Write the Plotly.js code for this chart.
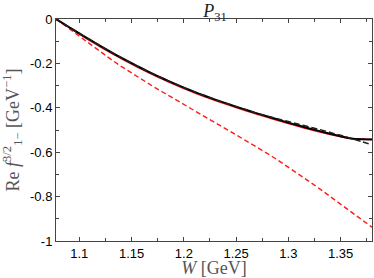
<!DOCTYPE html>
<html><head><meta charset="utf-8">
<script src="https://cdn.plot.ly/plotly-3.0.1.min.js"></script>
<style>html,body{margin:0;padding:0;background:#fff;}#plot{width:374px;height:278px;}</style>
</head><body><div id="plot"></div>
<script>
var W = [1.0777,1.09,1.10,1.11,1.12,1.13,1.14,1.15,1.16,1.17,1.18,1.19,1.20,1.21,1.22,1.23,1.24,1.25,1.26,1.27,1.28,1.29,1.30,1.31,1.32,1.33,1.34,1.35,1.36,1.37,1.38];
var blackSolid = [0,-0.036,-0.065,-0.093,-0.121,-0.148,-0.174,-0.199,-0.223,-0.246,-0.268,-0.289,-0.309,-0.328,-0.346,-0.363,-0.379,-0.395,-0.410,-0.425,-0.439,-0.453,-0.467,-0.480,-0.493,-0.505,-0.517,-0.528,-0.538,-0.542,-0.543];
var redSolid = [0,-0.038,-0.068,-0.097,-0.125,-0.152,-0.178,-0.203,-0.227,-0.250,-0.272,-0.293,-0.313,-0.332,-0.350,-0.367,-0.383,-0.399,-0.414,-0.429,-0.443,-0.457,-0.471,-0.484,-0.497,-0.509,-0.520,-0.530,-0.538,-0.541,-0.542];
var blackDashed = [0,-0.036,-0.065,-0.093,-0.121,-0.148,-0.174,-0.199,-0.223,-0.246,-0.268,-0.289,-0.309,-0.328,-0.346,-0.363,-0.379,-0.395,-0.410,-0.425,-0.438,-0.450,-0.462,-0.474,-0.486,-0.498,-0.511,-0.524,-0.538,-0.552,-0.566];
var redDashed = [0,-0.043,-0.079,-0.114,-0.148,-0.181,-0.213,-0.244,-0.275,-0.302,-0.330,-0.357,-0.384,-0.412,-0.439,-0.467,-0.494,-0.522,-0.550,-0.577,-0.606,-0.636,-0.667,-0.699,-0.732,-0.765,-0.799,-0.833,-0.868,-0.903,-0.938];
var xTickVals = [1.1,1.15,1.2,1.25,1.3,1.35];
var xTickText = ["1.1","1.15","1.2","1.25","1.3","1.35"];
var xMinor = [1.125,1.175,1.225,1.275,1.325,1.375];
var yTickVals = [0,-0.2,-0.4,-0.6,-0.8,-1];
var yTickText = ["0","-0.2","-0.4","-0.6","-0.8","-1"];
var yMinor = [-0.1,-0.3,-0.5,-0.7,-0.9];

var traces = [
  {x:W, y:redDashed, mode:'lines', line:{color:'#ff1a1a', width:1.4, dash:'5px,3px'}},
  {x:W, y:redSolid, mode:'lines', line:{color:'#ff1a1a', width:1.6, shape:'spline', smoothing:0.6}},
  {x:W, y:blackSolid, mode:'lines', line:{color:'#000', width:2, shape:'spline', smoothing:0.6}},
  {x:W, y:blackDashed, mode:'lines', line:{color:'#222', width:1.5, dash:'6px,3px', shape:'spline', smoothing:0.6}}
];
var axisCommon = {showline:true, linecolor:'#444', linewidth:1, mirror:'ticks', ticks:'inside', ticklen:4, tickcolor:'#444', showgrid:false, zeroline:false, tickmode:'array',
  tickfont:{family:'Liberation Sans, Arial, sans-serif', size:13, color:'#000'}};
var layout = {
  width:374, height:278,
  margin:{l:56, r:2, t:19, b:37},
  paper_bgcolor:'#fff', plot_bgcolor:'#fff',
  showlegend:false,
  title:{text:'<i>P</i><sub>31</sub>', font:{family:'Liberation Serif, Times New Roman, serif', size:18, color:'#222'}, x:0.575, xanchor:'center', yref:'container', y:0.962, yanchor:'middle'},
  xaxis:Object.assign({}, axisCommon, {range:[1.0777,1.38], tickvals:xTickVals, ticktext:xTickText,
    minor:{tickvals:xMinor, ticks:'inside', ticklen:3, tickcolor:'#444'},
    title:{text:'<i>W</i> [GeV]', font:{family:'Liberation Serif, Times New Roman, serif', size:18, color:'#555'}, standoff:3}}),
  yaxis:Object.assign({}, axisCommon, {range:[-1,0], tickvals:yTickVals, ticktext:yTickText,
    minor:{tickvals:yMinor, ticks:'inside', ticklen:3, tickcolor:'#444'},
    title:{text:'Re <i>f</i><sup>3/2</sup><sub>1−</sub> [GeV<sup>−1</sup>]', font:{family:'Liberation Serif, Times New Roman, serif', size:18, color:'#555'}, standoff:6}})
};
Plotly.newPlot('plot', traces, layout, {displayModeBar:false, staticPlot:true});
</script></body></html>
